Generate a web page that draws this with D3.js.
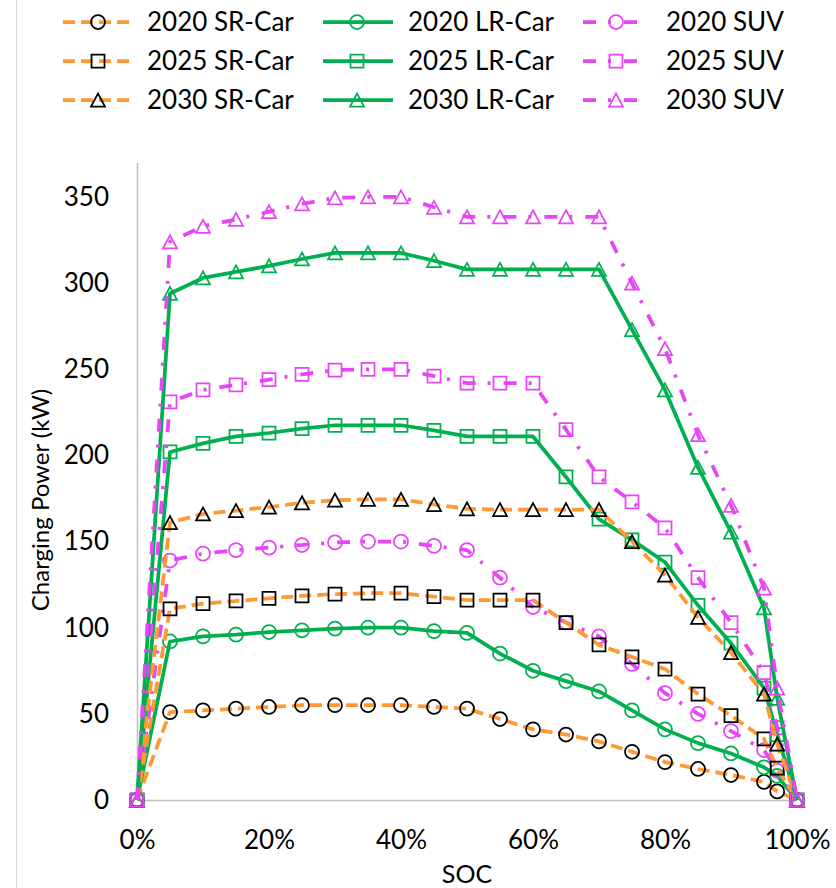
<!DOCTYPE html>
<html>
<head>
<meta charset="utf-8">
<script src="https://cdn.jsdelivr.net/npm/d3@7"></script>
<style>
  html, body { margin: 0; padding: 0; background: #fff; }
  svg { display: block; font-family: Lato, "Open Sans", sans-serif; }
</style>
</head>
<body>
<svg id="chart" width="836" height="888"></svg>
<script>
// State of charge (%) at each sample
const soc = [0, 5, 10, 15, 20, 25, 30, 35, 40, 45, 50, 55, 60, 65, 70, 75, 80, 85, 90, 95, 97, 100];

// Charging power (kW) per vehicle type and year
const sr2020  = [0, 51, 52, 53, 54, 55, 55, 55, 55, 54, 53, 47, 41, 38, 34, 28, 22, 18, 14.5, 10.5, 5, 0];
const lr2020  = [0, 92, 95, 96, 97.5, 98.5, 99.5, 100, 100, 98, 97, 85, 75, 69, 63, 52, 41, 33, 27, 19, 14, 0];
const suv2020 = [0, 139, 143, 145, 146.5, 148, 149.5, 150, 150, 147.5, 145, 129, 112, 103, 95, 79, 62, 50, 40, 29, 17, 0];
const sr2025  = [0, 111, 114, 115.5, 117, 118.5, 119.5, 120, 120, 118, 116, 116, 116, 103, 90, 83, 76, 61.5, 49, 35.5, 18.5, 0];
const lr2025  = [0, 202, 207, 211, 213, 215.5, 217.5, 217.5, 217.5, 214.5, 211, 211, 211, 187.5, 163, 151, 138, 113, 91, 65, 38, 0];
const suv2025 = [0, 231, 238, 241, 244, 247, 249.5, 250, 250, 246, 242, 242, 242, 215, 187.5, 173, 158, 129, 103, 74, 42, 0];
const sr2030  = [0, 161, 166, 168, 170, 172.5, 174, 174.5, 174.5, 171.5, 169, 168.5, 168.5, 168.5, 168.5, 150, 130.5, 106, 85.5, 61.5, 32.5, 0];
const lr2030  = [0, 294, 303, 306.5, 310, 314, 317.5, 317.5, 317.5, 313, 308, 308, 308, 308, 308, 273, 238, 193, 155.5, 111.5, 59, 0];
const suv2030 = [0, 324, 333, 337, 341.5, 346, 349.5, 350, 350, 344, 338.5, 338.5, 338.5, 338.5, 338.5, 300, 262, 212, 171, 123, 65, 0];

const seriesNames = [
  "2020 SR-Car", "2020 LR-Car", "2020 SUV",
  "2025 SR-Car", "2025 LR-Car", "2025 SUV",
  "2030 SR-Car", "2030 LR-Car", "2030 SUV"
];
const seriesValues = [sr2020, lr2020, suv2020, sr2025, lr2025, suv2025, sr2030, lr2030, suv2030];

const yTicks = [0, 50, 100, 150, 200, 250, 300, 350];
const xTicks = [0, 20, 40, 60, 80, 100];
const xTitle = "SOC";
const yTitle = "Charging Power (kW)";

// Visual style per vehicle class (column) and marker per year (row)
const classStyle = [
  { color: "#ff9933", dash: "12,6", marker: "#000000" },
  { color: "#00b050", dash: null, marker: "#00b050" },
  { color: "#e646f5", dash: "13,12,3,13", marker: "#e646f5" }
];
const yearShape = ["circle", "square", "triangle"];

const svg = d3.select("#chart");

// Outer frame edge on the left
svg.append("line")
  .attr("x1", 16.5).attr("x2", 16.5).attr("y1", 0).attr("y2", 888)
  .attr("stroke", "#d9d9d9").attr("stroke-width", 1);

const x = d3.scaleLinear().domain([0, 100]).range([137, 797]);
const y = d3.scaleLinear().domain([0, 370]).range([800, 162.5]);

// Axes
const yAxis = svg.append("g")
  .attr("transform", `translate(${x(0)},0)`)
  .call(d3.axisLeft(y).tickValues(yTicks).tickSize(0).tickPadding(28).tickFormat(d3.format("d")));
const xAxis = svg.append("g")
  .attr("transform", `translate(0,${y(0)})`)
  .call(d3.axisBottom(x).tickValues(xTicks).tickSize(0).tickPadding(31).tickFormat(d => d + "%"));

[yAxis, xAxis].forEach(g => {
  g.select(".domain").attr("stroke", "#bfbfbf").attr("stroke-width", 1.5);
  g.selectAll("text").attr("font-size", 26).attr("fill", "#000")
    .attr("font-family", "Lato, 'Open Sans', sans-serif");
});

svg.append("text")
  .attr("transform", "translate(49,500) rotate(-90)")
  .attr("text-anchor", "middle")
  .attr("font-size", 24)
  .text(yTitle);
svg.append("text")
  .attr("x", 467).attr("y", 883)
  .attr("text-anchor", "middle")
  .attr("font-size", 25)
  .text(xTitle);

// Marker path generator: shapes centered on their bounding box
function markerPath(shape) {
  if (shape === "circle") return d3.symbol(d3.symbolCircle, Math.PI * 7 * 7)();
  if (shape === "square") return "M-6.5,-6.5H6.5V6.5H-6.5Z";
  return "M0,-6.5L7,6.5H-7Z";
}

const line = d3.line()
  .x((d, i) => x(soc[i]))
  .y(d => y(d));

const plot = svg.append("g");
seriesValues.forEach((vals, k) => {
  const st = classStyle[k % 3];
  const shape = yearShape[Math.floor(k / 3)];
  const g = plot.append("g").attr("class", "series");
  g.append("path")
    .datum(vals)
    .attr("d", line)
    .attr("fill", "none")
    .attr("stroke", st.color)
    .attr("stroke-width", 3.75)
    .attr("stroke-linejoin", "round")
    .attr("stroke-dasharray", st.dash);
  g.selectAll("path.mk")
    .data(vals)
    .join("path")
    .attr("class", "mk")
    .attr("transform", (d, i) => `translate(${x(soc[i])},${y(d)})`)
    .attr("d", markerPath(shape))
    .attr("fill", "none")
    .attr("stroke", st.marker)
    .attr("stroke-width", 1.75);
});

// Legend: rows are years, columns are vehicle classes
const legCols = [
  { x0: 63, x1: 133, mx: 98, tx: 147 },
  { x0: 323, x1: 393, mx: 357, tx: 408 },
  { x0: 583, x1: 643, mx: 616, tx: 666 }
];
const legRows = [22, 61, 100];
seriesNames.forEach((name, k) => {
  const c = legCols[k % 3];
  const yy = legRows[Math.floor(k / 3)];
  const st = classStyle[k % 3];
  const g = svg.append("g");
  g.append("line")
    .attr("x1", c.x0).attr("x2", c.x1).attr("y1", yy).attr("y2", yy)
    .attr("stroke", st.color).attr("stroke-width", 3.75)
    .attr("stroke-dasharray", st.dash);
  g.append("path")
    .attr("transform", `translate(${c.mx},${yy})`)
    .attr("d", markerPath(yearShape[Math.floor(k / 3)]))
    .attr("fill", "none").attr("stroke", st.marker).attr("stroke-width", 1.75);
  g.append("text")
    .attr("x", c.tx).attr("y", yy).attr("dy", "0.36em")
    .attr("font-size", 26)
    .text(name);
});
</script>
</body>
</html>
